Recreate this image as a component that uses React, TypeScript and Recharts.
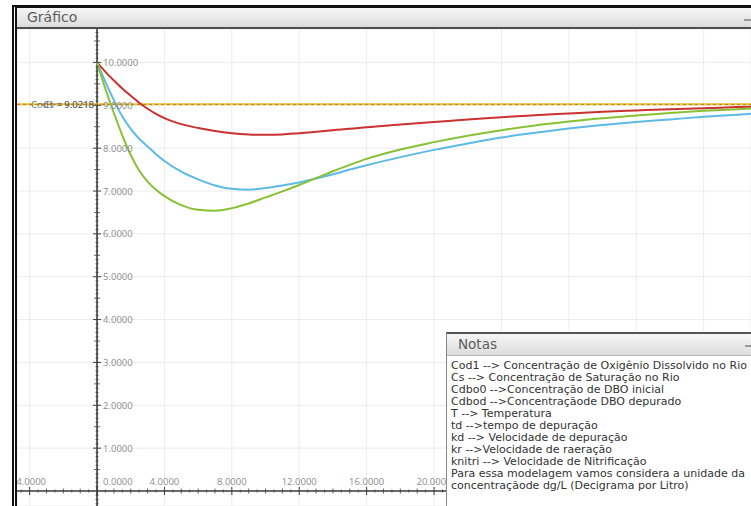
import React from "react"
import {
  LineChart,
  Line,
  XAxis,
  YAxis,
  CartesianGrid,
  ReferenceLine,
  ReferenceDot,
} from "recharts"

// tempo de depuração (dias)
const tempos = [0, 0.5, 1, 1.5, 2, 2.5, 3, 3.5, 4, 5, 6, 7, 8, 9, 10, 11, 12, 13, 14, 15, 16, 18, 20, 22, 24, 26, 28, 30, 32, 34, 36, 38, 39]

// oxigênio dissolvido (dg/L)
const curvaVermelha = [10, 9.78, 9.58, 9.39, 9.22, 9.06, 8.92, 8.8, 8.7, 8.56, 8.47, 8.4, 8.35, 8.32, 8.31, 8.32, 8.35, 8.38, 8.42, 8.45, 8.49, 8.55, 8.61, 8.67, 8.72, 8.77, 8.81, 8.85, 8.88, 8.91, 8.93, 8.96, 8.97]
const curvaAzul = [10, 9.54, 9.12, 8.74, 8.45, 8.22, 8.04, 7.86, 7.7, 7.45, 7.27, 7.13, 7.05, 7.03, 7.07, 7.13, 7.2, 7.29, 7.39, 7.5, 7.6, 7.79, 7.96, 8.11, 8.25, 8.36, 8.46, 8.54, 8.61, 8.67, 8.73, 8.78, 8.81]
const curvaVerde = [10, 9.38, 8.82, 8.3, 7.84, 7.48, 7.22, 7.03, 6.88, 6.67, 6.56, 6.54, 6.6, 6.71, 6.85, 6.99, 7.14, 7.3, 7.46, 7.61, 7.75, 7.97, 8.14, 8.29, 8.42, 8.53, 8.62, 8.7, 8.76, 8.82, 8.87, 8.91, 8.93]

const cs = 9.0218
const rotulosCs = ["Cod1 = 9.0218", "Cs = 9.0218"]

const xTicks = [-4, 0, 4, 8, 12, 16, 20, 24, 28, 32, 36]
const xTickLabels = ["-4.0000", "0.0000", "4.0000", "8.0000", "12.0000", "16.0000", "20.0000", "24.0000", "28.0000", "32.0000", "36.0000"]
const yTicks = [1, 2, 3, 4, 5, 6, 7, 8, 9, 10]
const yTickLabels = ["1.0000", "2.0000", "3.0000", "4.0000", "5.0000", "6.0000", "7.0000", "8.0000", "9.0000", "10.0000"]
const gridY = [0, 1, 2, 3, 4, 5, 6, 7, 8, 9, 10]

const notas = [
  "Cod1 --> Concentração de Oxigênio Dissolvido no Rio",
  "Cs --> Concentração de Saturação no Rio",
  "Cdbo0 -->Concentração de DBO inicial",
  "Cdbod -->Concentraçãode DBO depurado",
  "T --> Temperatura",
  "td -->tempo de depuração",
  "kd --> Velocidade de depuração",
  "kr -->Velocidade de raeração",
  "knitri --> Velocidade de Nitrificação",
  "Para essa modelagem vamos considera a unidade da",
  "concentraçãode dg/L (Decigrama por Litro)",
]

const data = tempos.map((t, i) => ({
  t,
  vermelha: curvaVermelha[i],
  azul: curvaAzul[i],
  verde: curvaVerde[i],
}))

// marcas menores dos eixos
const xMinor: number[] = []
for (let v = -4.5; v <= 38.5; v += 0.5) if (v % 4 !== 0) xMinor.push(v)
const yMinor: number[] = []
for (let k = -3; k <= 107; k++) if (k % 10 !== 0) yMinor.push(k / 10)

const tickFont = "'Open Sans', sans-serif"
const eixo = "#3c3c3c"

const xMajorShape = (label: string, zero: boolean) => (p: any) => (
  <g>
    <line x1={p.cx} x2={p.cx} y1={p.cy - 4} y2={p.cy + 4} stroke={eixo} strokeWidth={1} />
    <text
      x={zero ? p.cx + 6 : p.cx}
      y={p.cy - 6}
      textAnchor={zero ? "start" : "middle"}
      fontSize={9.5}
      fontFamily={tickFont}
      fill="#8c8c8c"
    >
      {label}
    </text>
  </g>
)

const yMajorShape = (label: string) => (p: any) => (
  <g>
    <line x1={p.cx - 4} x2={p.cx + 4} y1={p.cy} y2={p.cy} stroke={eixo} strokeWidth={1} />
    <text x={p.cx + 6} y={p.cy + 3.5} fontSize={9.5} fontFamily={tickFont} fill="#8c8c8c">
      {label}
    </text>
  </g>
)

const xMinorShape = (half: boolean) => (p: any) => (
  <line x1={p.cx} x2={p.cx} y1={p.cy - (half ? 1.5 : 2.5)} y2={p.cy + (half ? 1.5 : 2.5)} stroke={eixo} strokeWidth={0.8} />
)
const yMinorShape = (mid: boolean) => (p: any) => (
  <line x1={p.cx - (mid ? 3 : 1.5)} x2={p.cx + (mid ? 3 : 1.5)} y1={p.cy} y2={p.cy} stroke={eixo} strokeWidth={0.8} />
)

const csLabelShape = (p: any) => (
  <g>
    {rotulosCs.map((r) => (
      <text key={r} x={p.cx - 3} y={p.cy + 3.5} textAnchor="end" fontSize={9.5} fontFamily={tickFont} fill="#6a6a6a">
        {r}
      </text>
    ))}
  </g>
)

const barra: React.CSSProperties = {
  background: "linear-gradient(#f6f6f6, #dcdcdc)",
  boxSizing: "border-box",
  fontFamily: "'DejaVu Sans', sans-serif",
  color: "#5c5c5c",
}

export default function App() {
  return (
    <div style={{ position: "absolute", left: 0, top: 0, width: 751, height: 506, overflow: "hidden", background: "#fff" }}>
      {/* moldura da janela */}
      <div style={{ position: "absolute", left: 12, top: 5, width: 800, height: 600, borderLeft: "5px double #111", borderTop: "3px solid #111", boxSizing: "border-box" }} />
      <div style={{ ...barra, position: "absolute", left: 17, top: 8, width: 740, height: 21, borderBottom: "2px solid #4e4e4e", fontSize: 14, lineHeight: "19px", paddingLeft: 10 }}>
        Gráfico
      </div>
      <div style={{ position: "absolute", left: 744, top: 19, width: 10, height: 2, background: "#9a9a9a" }} />

      <div style={{ position: "absolute", left: 17, top: 29 }}>
        <LineChart width={734} height={477} data={data} margin={{ top: 0, right: 0, bottom: 0, left: 0 }}>
          <XAxis dataKey="t" type="number" domain={[-4.75, 38.81]} ticks={xTicks} allowDataOverflow hide />
          <YAxis type="number" domain={[-0.35, 10.78]} ticks={gridY} allowDataOverflow hide />
          <CartesianGrid stroke="#ececec" strokeWidth={1} />

          <ReferenceLine x={0} stroke={eixo} strokeWidth={1.6} />
          <ReferenceLine y={0} stroke={eixo} strokeWidth={1.6} />
          {xMinor.map((v) => (
            <ReferenceDot key={"xm" + v} x={v} y={0} r={0} shape={xMinorShape(v % 1 !== 0)} />
          ))}
          {yMinor.map((v) => (
            <ReferenceDot key={"ym" + v} x={0} y={v} r={0} shape={yMinorShape(Math.abs((v * 10) % 10) === 5)} />
          ))}
          {xTicks.map((v, i) => (
            <ReferenceDot key={"xt" + v} x={v} y={0} r={0} shape={xMajorShape(xTickLabels[i], v === 0)} />
          ))}
          {yTicks.map((v, i) => (
            <ReferenceDot key={"yt" + v} x={0} y={v} r={0} shape={yMajorShape(yTickLabels[i])} />
          ))}

          <ReferenceLine y={cs} stroke="#f2c230" strokeWidth={2} />
          <ReferenceLine y={cs} stroke="#8a7440" strokeWidth={0.8} strokeDasharray="3 3" />
          <ReferenceDot x={0} y={cs} r={0} shape={csLabelShape} />

          <Line type="monotone" dataKey="vermelha" stroke="#c9322e" strokeWidth={2} dot={false} isAnimationActive={false} />
          <Line type="monotone" dataKey="azul" stroke="#5cbbe6" strokeWidth={2} dot={false} isAnimationActive={false} />
          <Line type="monotone" dataKey="verde" stroke="#88c234" strokeWidth={2} dot={false} isAnimationActive={false} />
        </LineChart>
      </div>

      {/* painel de notas */}
      <div style={{ position: "absolute", left: 446, top: 332, width: 320, height: 190, background: "#fff", borderTop: "2px solid #555", borderLeft: "1px solid #888", boxSizing: "border-box" }}>
        <div style={{ ...barra, height: 22, borderBottom: "1px solid #b4b4b4", fontSize: 13.5, lineHeight: "21px", paddingLeft: 11 }}>Notas</div>
        <div style={{ position: "absolute", left: 298, top: 11, width: 10, height: 2, background: "#9a9a9a" }} />
        <div style={{ padding: "4px 0 0 4px", fontFamily: "'DejaVu Sans', sans-serif", fontSize: 11, lineHeight: "12px", color: "#333", whiteSpace: "nowrap" }}>
          {notas.map((n) => (
            <div key={n}>{n}</div>
          ))}
        </div>
      </div>
    </div>
  )
}
